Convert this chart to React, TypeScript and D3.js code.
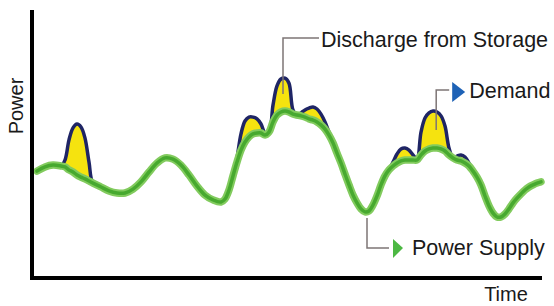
import React from 'react';
import * as d3 from 'd3';

// time steps (arbitrary units), power in arbitrary units
const times = [
  1, 3, 5, 7, 8, 9, 10, 11, 12, 13, 14, 15, 17, 19, 21, 23, 25, 27, 29, 31, 33, 35, 37, 39, 41, 43, 45, 47,
  48, 49, 50, 51, 52, 53, 54, 55, 56, 57, 58, 59, 60, 61, 62, 63, 64, 65, 66, 67, 68, 69, 70, 71, 72, 73, 74,
  75, 76, 77, 78, 79, 80, 81, 82, 83, 84, 85, 86, 87, 88, 89, 90, 91, 92, 93, 94, 95, 96, 97, 98, 99, 100,
  101, 102, 103, 104, 105, 106, 107, 108, 109, 110, 111, 112, 113, 114, 115, 116, 117, 118, 119, 120, 121,
  122, 123, 124, 125, 126, 127,
];

const supply = [
  35.3, 36.7, 37.3, 37.0, 36.7, 35.7, 35.0, 34.0, 33.3, 32.7, 32.0, 31.3, 30.0, 28.7, 28.0, 28.0, 29.3, 31.7,
  35.0, 38.0, 39.7, 39.3, 37.3, 34.0, 30.3, 27.3, 25.7, 25.0,
  26.0, 29.0, 33.7, 38.3, 42.3, 45.0, 46.7, 47.7, 48.0, 48.0, 47.3, 48.3, 51.7, 54.0, 55.0, 55.3, 55.0, 54.3,
  54.0, 53.7, 53.3, 52.7, 52.3, 51.7, 50.7, 49.3, 47.3,
  44.7, 41.3, 38.0, 34.3, 30.7, 27.3, 24.7, 22.7, 21.7, 22.0, 24.0, 27.0, 30.7, 33.7, 35.7, 37.0, 38.0, 38.7,
  39.0, 39.0, 39.0, 39.0, 40.7, 42.0, 42.7, 43.0,
  43.0, 42.7, 42.0, 40.7, 39.7, 39.0, 38.7, 38.0, 37.0, 35.3, 33.3, 30.7, 27.0, 23.7, 21.3, 20.0, 20.0, 21.0,
  22.7, 24.7, 26.3, 27.7, 29.0, 30.0, 30.7, 31.3, 31.7,
];

const demand = [
  35.3, 36.7, 37.3, 37.0, 39.0, 45.7, 49.7, 51.0, 50.0, 46.3, 38.3, 31.3, 30.0, 28.7, 28.0, 28.0, 29.3, 31.7,
  35.0, 38.0, 39.7, 39.3, 37.3, 34.0, 30.3, 27.3, 25.7, 25.0,
  26.0, 29.0, 33.7, 39.7, 47.7, 52.0, 53.3, 53.3, 52.7, 51.0, 48.0, 48.3, 57.3, 63.7, 66.0, 66.3, 64.6, 55.7,
  54.0, 54.7, 55.7, 56.3, 56.7, 56.0, 54.3, 51.7, 48.3,
  44.7, 41.3, 38.0, 34.3, 30.7, 27.3, 24.7, 22.7, 21.7, 22.0, 24.0, 27.0, 30.7, 33.7, 35.7, 38.3, 41.0, 42.7,
  43.0, 42.3, 40.7, 39.3, 48.3, 53.0, 54.7, 55.3,
  55.0, 53.7, 50.3, 43.0, 39.7, 40.3, 40.7, 40.0, 38.0, 35.3, 33.3, 30.7, 27.0, 23.7, 21.3, 20.0, 20.0, 21.0,
  22.7, 24.7, 26.3, 27.7, 29.0, 30.0, 30.7, 31.3, 31.7,
];

const axisLabels = ['Power', 'Time'];
const calloutLabels = ['Discharge from Storage', 'Demand', 'Power Supply'];
// time step each callout points at
const calloutTimes = [62.5, 100.8, 83.5];

const font = '"Liberation Sans", Arial, Helvetica, sans-serif';

export default function App() {
  const width = 554;
  const height = 306;

  const x = d3.scaleLinear().domain([0, 127]).range([33, 541]);
  const y = d3.scaleLinear().domain([0, 89]).range([277, 10]);

  const rows = times.map((t, i) => ({ t, s: supply[i], d: demand[i] }));
  const curve = d3.curveCatmullRom.alpha(0.5);

  const supplyLine = d3.line<any>().x(d => x(d.t)).y(d => y(d.s)).curve(curve);
  const demandLine = d3.line<any>().x(d => x(d.t)).y(d => y(d.d)).curve(curve);
  const gap = d3.area<any>().x(d => x(d.t)).y0(d => y(d.s)).y1(d => y(d.d)).curve(curve);

  const peakIdx = (t: number) => d3.minIndex(times, v => Math.abs(v - t));
  const dx = x(calloutTimes[0]);
  const dTop = y(demand[peakIdx(calloutTimes[0])]);
  const mx = x(calloutTimes[1]);
  const mTop = y(demand[peakIdx(calloutTimes[1])]);
  const px = x(calloutTimes[2]);
  const pBot = y(supply[peakIdx(calloutTimes[2])]);

  const lead = '#7d7575';
  const fs = 21.5;

  return (
    <svg width={width} height={height} style={{ position: 'absolute', left: 0, top: 0 }}>
      <rect width={width} height={height} fill="#ffffff" />

      <path d={gap(rows) || ''} fill="#f5e30f" />
      <path d={demandLine(rows) || ''} fill="none" stroke="#1f2565" strokeWidth={3.5} strokeLinejoin="round" />
      <path d={supplyLine(rows) || ''} fill="none" stroke="#82cb5e" strokeWidth={7.5} strokeLinecap="round" />
      <path d={supplyLine(rows) || ''} fill="none" stroke="#47a92f" strokeWidth={3.5} strokeLinecap="round" />

      {/* axes */}
      <line x1={x(0) - 1} y1={10} x2={x(0) - 1} y2={280} stroke="#000" strokeWidth={4} />
      <line x1={x(0) - 3} y1={278} x2={x(127) + 1} y2={278} stroke="#000" strokeWidth={4} />
      <text
        transform={`translate(23, ${y(57)}) rotate(-90)`}
        textAnchor="middle"
        fontFamily={font}
        fontSize={20}
        fill="#1a1a1a"
      >
        {axisLabels[0]}
      </text>
      <text x={506} y={301} textAnchor="middle" fontFamily={font} fontSize={20} fill="#1a1a1a">
        {axisLabels[1]}
      </text>

      {/* discharge callout */}
      <polyline points={`${dx},${dTop + 15} ${dx},38 ${dx + 36},38`} fill="none" stroke={lead} strokeWidth={1.5} />
      <text x={dx + 38} y={47} fontFamily={font} fontSize={fs} fill="#1a1a1a">
        {calloutLabels[0]}
      </text>

      {/* demand callout */}
      <polyline points={`${mx},${mTop + 18} ${mx},90 ${mx + 13},90`} fill="none" stroke={lead} strokeWidth={1.5} />
      <path d={`M${mx + 16},82 L${mx + 29},92 L${mx + 16},102 Z`} fill="#1e62b6" />
      <text x={mx + 33} y={98} fontFamily={font} fontSize={fs} fill="#1a1a1a">
        {calloutLabels[1]}
      </text>

      {/* supply callout */}
      <polyline points={`${px},${pBot + 6} ${px},248 ${px + 22},248`} fill="none" stroke={lead} strokeWidth={1.5} />
      <path d={`M${px + 26},239 L${px + 36},248 L${px + 26},258 Z`} fill="#4cb843" />
      <text x={px + 45} y={255} fontFamily={font} fontSize={fs} fill="#1a1a1a">
        {calloutLabels[2]}
      </text>
    </svg>
  );
}
